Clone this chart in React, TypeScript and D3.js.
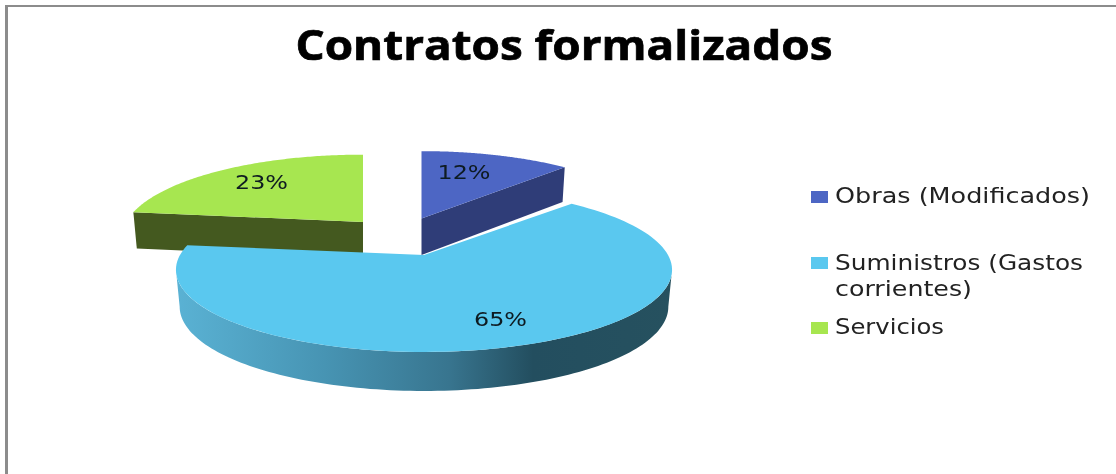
import React from "react";
import * as d3 from "d3";

const title = "Contratos formalizados";
const categories = ["Obras (Modificados)", "Suministros (Gastos corrientes)", "Servicios"];
const values = [12, 65, 23];
const labels = ["12%", "65%", "23%"];
const colors = ["#4d66c4", "#5ac8ef", "#a7e650"];
const sideColors = ["#2f3d78", "#3a7d9a", "#44591f"];

// layout constants
const W = 1116, H = 474;
const RX = 244, RY = 79.5, K = 0.18;
const apexes: [number, number][] = [[421.5, 218.5], [424, 255], [363, 222]];
const sliceScale = [0.97, 1, 0.97];
const labelPos: [number, number][] = [[464, 179], [500.5, 326], [261.5, 189]];
const legendRows = [
  { y: 191, lines: [{ t: "Obras (Modificados)", y: 203, w: 255 }] },
  { y: 257, lines: [{ t: "Suministros (Gastos", y: 270, w: 248 }, { t: "corrientes)", y: 296, w: 137 }] },
  { y: 322, lines: [{ t: "Servicios", y: 334, w: 109 }] },
];

const pieGen = d3.pie<number>().sort(null).startAngle(0).endAngle(2 * Math.PI);
const arcs = pieGen(values);

function project(theta: number, r: number, c: [number, number], i: number, lower = false): [number, number] {
  const u = r * Math.sin(theta), v = r * Math.cos(theta);
  const s = 1 / (1 + K * v);
  const x = c[0] + RX * sliceScale[i] * u * s * (lower ? 0.985 : 1);
  const y = c[1] - RY * v * s + (lower ? 36.5 - 2.5 * v : 0);
  return [x, y];
}

const line = d3.line<[number, number]>().x(d => d[0]).y(d => d[1]);

function arcPts(a0: number, a1: number, c: [number, number], i: number, lower = false) {
  const n = 120;
  return d3.range(n + 1).map(j => project(a0 + ((a1 - a0) * j) / n, 1, c, i, lower));
}

function topPath(a0: number, a1: number, i: number) {
  const c = apexes[i];
  return line([c, ...arcPts(a0, a1, c, i), c]) + "Z";
}

function rimPath(a0: number, a1: number, i: number) {
  const c = apexes[i];
  const top = arcPts(a0, a1, c, i);
  const bot = arcPts(a0, a1, c, i, true).reverse();
  return line([...top, ...bot]) + "Z";
}

function facePath(theta: number, i: number) {
  const c = apexes[i];
  const p = project(theta, 1, c, i), q = project(theta, 1, c, i, true);
  const cb = project(0, 0, c, i, true);
  return line([c, p, q, cb]) + "Z";
}

// the visible rim of the front slice runs between the two tangent points of the ellipse
const rimInset = Math.asin(K);

export default function App() {
  const [ob, su, se] = arcs;
  const font = "'DejaVu Sans', Verdana, sans-serif";
  return (
    <svg width={W} height={H} viewBox={`0 0 ${W} ${H}`} style={{ position: "absolute", left: 0, top: 0, background: "#fff" }}>
      <defs>
        <linearGradient id="rim" gradientUnits="userSpaceOnUse" x1={176} x2={672} y1={0} y2={0}>
          <stop offset="0" stopColor="#5ab2d4" />
          <stop offset="0.3" stopColor="#4794b3" />
          <stop offset="0.55" stopColor="#38758f" />
          <stop offset="0.72" stopColor="#234e5f" />
          <stop offset="1" stopColor="#26515f" />
        </linearGradient>
        <filter id="soft" x="-5%" y="-20%" width="110%" height="140%">
          <feGaussianBlur stdDeviation="0.6" />
        </filter>
      </defs>
      <path d="M6 6H1116" fill="none" stroke="#8c8c8c" strokeWidth={2} />
      <path d="M6.5 5V474" fill="none" stroke="#8c8c8c" strokeWidth={3} />
      <text x={564} y={60} textAnchor="middle" fontFamily="'Open Sans', sans-serif" fontWeight={700} fontSize={41} textLength={537} lengthAdjust="spacingAndGlyphs" fill="#000" stroke="#000" strokeWidth={0.7} filter="url(#soft)">{title}</text>

      {/* side faces of the rear slices */}
      <path d={facePath(se.startAngle, 2)} fill={sideColors[2]} />
      <path d={facePath(ob.endAngle, 0)} fill={sideColors[0]} />
      <path d={topPath(ob.startAngle, ob.endAngle, 0)} fill={colors[0]} />
      <path d={topPath(se.startAngle, se.endAngle, 2)} fill={colors[2]} />

      {/* front slice */}
      <path d={rimPath(Math.PI / 2 + rimInset, (3 * Math.PI) / 2 - rimInset, 1)} fill="url(#rim)" />
      <path d={topPath(su.startAngle, su.endAngle, 1)} fill={colors[1]} />

      <g filter="url(#soft)">
        {labels.map((l, i) => (
          <text key={l} x={labelPos[i][0]} y={labelPos[i][1]} textAnchor="middle" fontFamily={font} fontSize={20} textLength={53} lengthAdjust="spacingAndGlyphs" fill="#0d1a20">{l}</text>
        ))}
        {categories.map((c, i) => (
          <g key={c}>
            <rect x={811} y={legendRows[i].y} width={17} height={12} fill={colors[i]} />
            {legendRows[i].lines.map(ln => (
              <text key={ln.t} x={835} y={ln.y} fontFamily={font} fontSize={22} textLength={ln.w} lengthAdjust="spacingAndGlyphs" fill="#222">{ln.t}</text>
            ))}
          </g>
        ))}
      </g>
    </svg>
  );
}
